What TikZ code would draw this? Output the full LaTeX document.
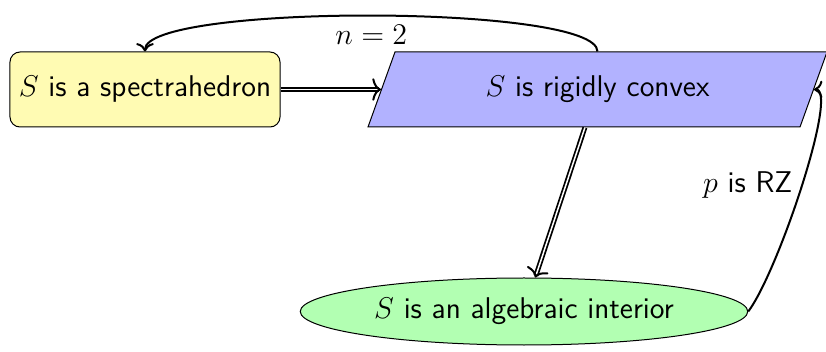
\documentclass[tikz,border=0pt]{standalone}
\usetikzlibrary{shapes.geometric,arrows.meta}
\begin{document}
\begin{tikzpicture}[x=0.4pt,y=-0.4pt,
  every node/.style={font=\large\sffamily},
  specbox/.style={draw, rounded corners=4pt, fill=yellow!30, minimum width=108pt, minimum height=30pt, inner sep=0pt},
  rigidbox/.style={minimum width=172.8pt, minimum height=30pt, inner sep=0pt},
  algbox/.style={draw, ellipse, fill=green!30, minimum width=179pt, minimum height=26.8pt, inner sep=0pt},
  implies/.style={double, line width=0.7pt, double distance=0.6pt, -{To[length=3.5pt,width=9pt,line width=0.8pt]}},
  conn/.style={thick, -{To}}]
\useasboundingbox (0,0) rectangle (826,352);
\draw[fill=blue!30] (395,52) -- (827,52) -- (800,127) -- (368,127) -- cycle;
\node[specbox] (sp) at (145,89.5) {$S$ is a spectrahedron};
\node[rigidbox] (rc) at (597.5,89.5) {$S$ is rigidly convex};
\node[algbox] (ai) at (524,311.5) {$S$ is an algebraic interior};
\draw[implies] (sp) -- (rc);
\draw[implies] (rc) -- (ai);
\draw[conn] (rc.north) to[out=90,in=90,looseness=0.27] node[below] {$n=2$} (sp.north);
\draw[conn] (ai.east) .. controls +(30,-40) and +(25,0) .. node[pos=0.5,left] {$p$ is RZ} (rc.east);
\end{tikzpicture}
\end{document}
